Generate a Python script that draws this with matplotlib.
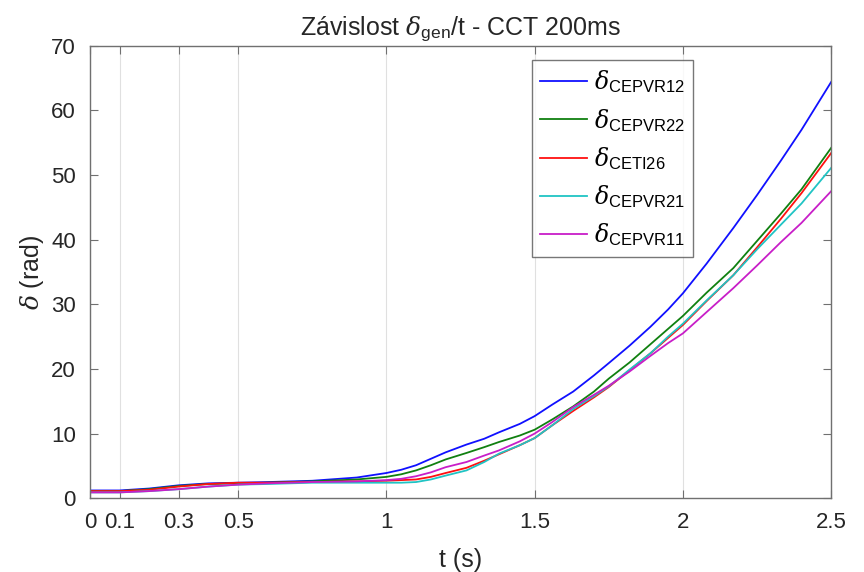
import matplotlib
matplotlib.use("Agg")
import matplotlib.pyplot as plt

face = "Liberation Sans"
plt.rcParams["font.family"] = [face, "DejaVu Sans"]
plt.rcParams["mathtext.fontset"] = "custom"
plt.rcParams["mathtext.rm"] = face
plt.rcParams["mathtext.it"] = "DejaVu Serif:italic"

t = [0, 0.1, 0.2, 0.3, 0.4, 0.5, 0.6, 0.75, 0.9, 1.0, 1.05, 1.1, 1.15, 1.2,
     1.27, 1.33, 1.38, 1.45, 1.5, 1.56, 1.63, 1.7, 1.75, 1.82, 1.89, 1.95,
     2.0, 2.08, 2.17, 2.25, 2.33, 2.4, 2.5]

cepvr12 = [1.2, 1.2, 1.5, 2.0, 2.3, 2.4, 2.5, 2.7, 3.2, 3.9, 4.4, 5.1, 6.1, 7.1,
           8.3, 9.2, 10.2, 11.5, 12.7, 14.5, 16.5, 19.0, 20.9, 23.6, 26.5, 29.2,
           31.7, 36.3, 41.8, 46.9, 52.2, 57.0, 64.4]
cepvr22 = [1.1, 1.1, 1.4, 1.9, 2.2, 2.3, 2.4, 2.6, 2.9, 3.3, 3.7, 4.3, 5.1, 6.0,
           7.0, 7.9, 8.7, 9.7, 10.6, 12.2, 14.2, 16.5, 18.5, 21.0, 23.8, 26.2,
           28.2, 31.8, 35.6, 39.8, 44.0, 47.8, 54.2]
ceti26 = [1.1, 1.1, 1.3, 1.8, 2.2, 2.4, 2.4, 2.5, 2.6, 2.7, 2.8, 2.9, 3.3, 3.9,
          4.7, 5.8, 6.8, 8.2, 9.3, 11.3, 13.5, 15.6, 17.2, 19.8, 22.4, 24.8,
          26.8, 30.5, 34.5, 38.8, 43.2, 47.2, 53.4]
cepvr21 = [0.9, 0.9, 1.1, 1.4, 1.8, 2.1, 2.2, 2.4, 2.4, 2.4, 2.4, 2.5, 2.9, 3.5,
           4.3, 5.6, 6.9, 8.2, 9.3, 11.3, 13.8, 15.8, 17.3, 19.9, 22.4, 25.0,
           27.0, 30.6, 34.5, 38.5, 42.3, 45.6, 51.1]
cepvr11 = [0.9, 0.9, 1.1, 1.4, 1.8, 2.1, 2.3, 2.5, 2.6, 2.8, 3.0, 3.4, 4.0, 4.8,
           5.6, 6.6, 7.4, 8.8, 10.0, 11.8, 14.1, 16.0, 17.4, 19.6, 22.0, 24.0,
           25.5, 28.8, 32.5, 36.0, 39.6, 42.6, 47.5]

series = [
    (cepvr12, "CEPVR12", "#1010ff"),
    (cepvr22, "CEPVR22", "#108010"),
    (ceti26, "CETI26", "#ff1010"),
    (cepvr21, "CEPVR21", "#20c4c4"),
    (cepvr11, "CEPVR11", "#c81ec8"),
]

xticks = [0, 0.1, 0.3, 0.5, 1, 1.5, 2, 2.5]
xticklabels = ["0", "0.1", "0.3", "0.5", "1", "1.5", "2", "2.5"]
yticks = [0, 10, 20, 30, 40, 50, 60, 70]

fig = plt.figure(figsize=(8.64, 5.72), dpi=100)
ax = fig.add_axes([0.104, 0.129, 0.858, 0.791])

for vals, name, col in series:
    ax.plot(t, vals, color=col, lw=1.3,
            label=r"$\delta_{\mathrm{%s}}$" % name)

ax.set_xlim(0, 2.5)
ax.set_ylim(0, 70)
ax.set_xticks(xticks)
ax.set_xticklabels(xticklabels)
ax.set_yticks(yticks)
ax.xaxis.grid(True, color="#e0e0e0", lw=0.8)
ax.set_axisbelow(True)

axcol = "#707070"
for s in ax.spines.values():
    s.set_color(axcol)
    s.set_linewidth(1.0)
ax.tick_params(direction="in", top=True, right=True, length=6,
               color=axcol, labelsize=16, labelcolor="#262626", pad=10)

ax.set_title(r"Závislost $\delta_{\mathrm{gen}}$/t - CCT 200ms",
             fontsize=18, color="#262626", pad=8)
ax.set_xlabel("t (s)", fontsize=18, color="#262626", labelpad=11)
ax.set_ylabel(r"$\delta$ (rad)", fontsize=18, color="#262626", labelpad=4)

leg = ax.legend(loc="upper left", bbox_to_anchor=(0.596, 0.968),
                fontsize=17, frameon=True, fancybox=False, handlelength=2.0,
                handletextpad=0.3, borderpad=0.35, labelspacing=0.48,
                borderaxespad=0)
leg.get_frame().set_edgecolor("#555555")
leg.get_frame().set_linewidth(1.0)

fig.savefig("out.png", dpi=100)
